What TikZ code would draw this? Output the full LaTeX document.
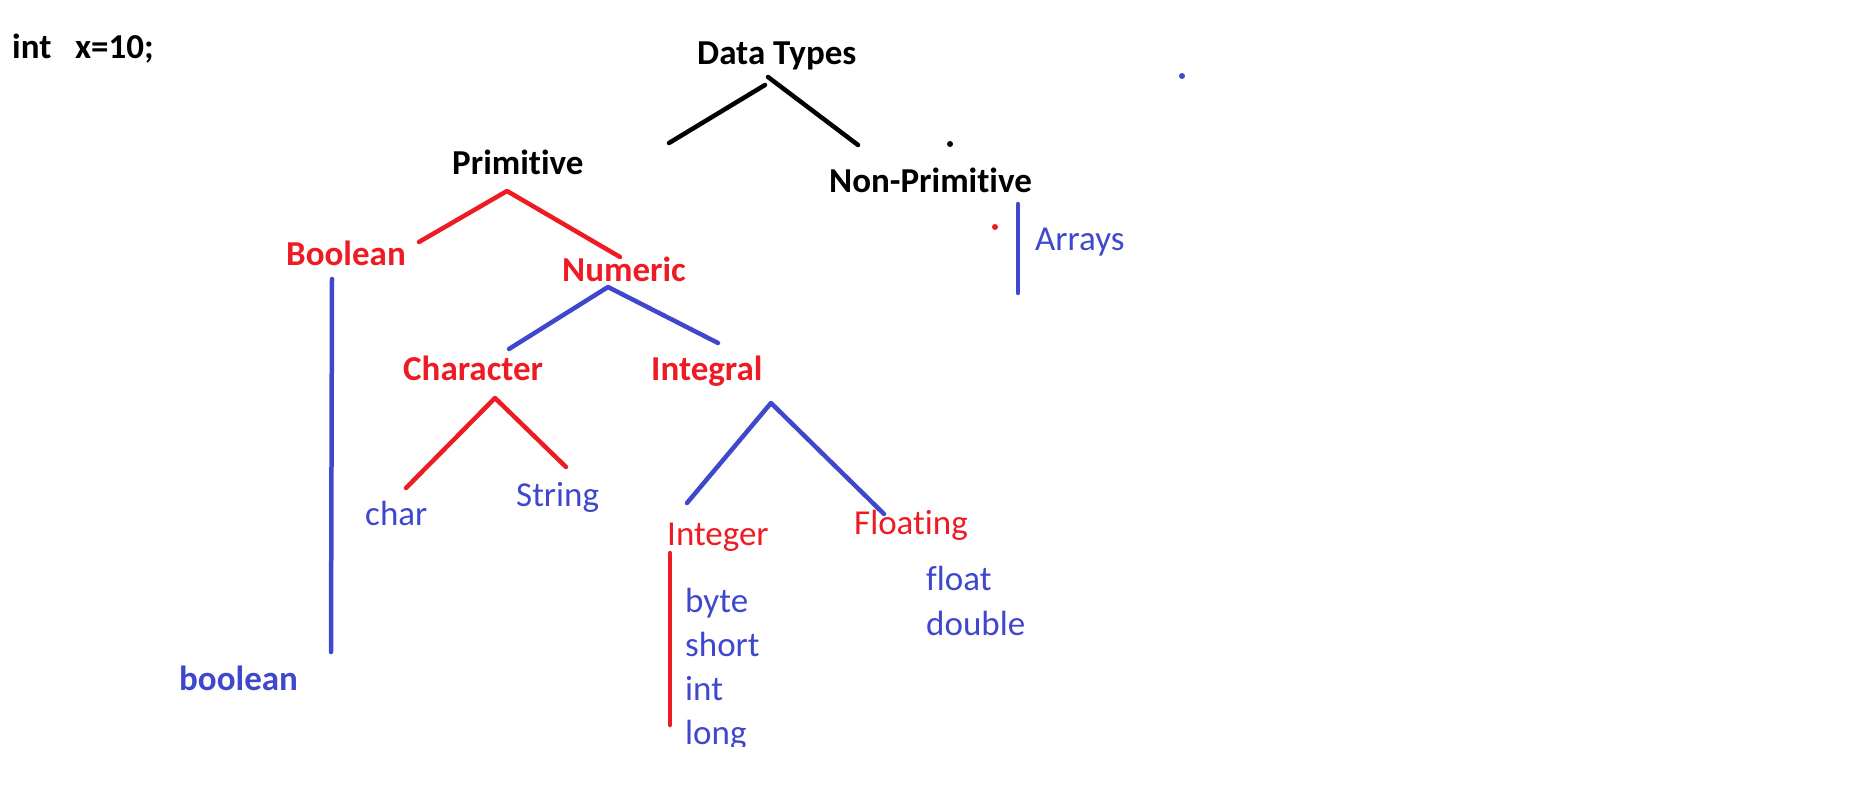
\documentclass[tikz,border=0pt]{standalone}
\usepackage{fontspec}
\setmainfont[RawFeature={-liga;-clig;-calt}]{Carlito}
\definecolor{paintred}{RGB}{237,28,36}
\definecolor{paintblue}{RGB}{63,72,204}
\begin{document}
\begin{tikzpicture}[x=1pt,y=-1pt,
  lbl/.style={anchor=base west,inner sep=0pt,font=\fontsize{35}{42}\selectfont},
  hd/.style={lbl,font=\fontsize{35}{42}\selectfont\bfseries},
  pen/.style={line width=4.5pt,line cap=round,line join=round}]
\useasboundingbox (0,0) rectangle (1855,810);
% headings
\node[hd] (code) at (12,59) {int\ \ \ x=10;};
\node[hd] (types) at (697,65) {Data Types};
\node[hd] (prim) at (452,175) {Primitive};
\node[hd] (nonprim) at (829,193) {Non-Primitive};
\node[hd,text=paintred] (bool) at (286,266) {Boolean};
\node[hd,text=paintred] (num) at (562,282) {Numeric};
\node[hd,text=paintred] (chr) at (403,380) {Character};
\node[hd,text=paintred] (integral) at (651,380) {Integral};
\node[hd,text=paintblue] (boolkw) at (179,690) {boolean};
% leaves
\node[lbl,text=paintblue] (charkw) at (365,525) {char};
\node[lbl,text=paintblue] (string) at (516,506) {String};
\node[lbl,text=paintred] (integer) at (667,545) {Integer};
\node[lbl,text=paintred] (floating) at (854,534) {Floating};
\node[lbl,text=paintblue] (floatkw) at (926,590) {float};
\node[lbl,text=paintblue] (doublekw) at (926,635) {double};
\node[lbl,text=paintblue] (arrays) at (1035,251) {Arrays};
\begin{scope}
\clip (600,560) rectangle (800,746);
\foreach \kw [count=\i] in {byte,short,int,long}
  \node[lbl,text=paintblue] (kw\i) at (685,568+44*\i) {\kw};
\end{scope}
% line ends
\coordinate (typesA) at (768,77);
\coordinate (typesB) at (765,85);
\coordinate (typesL) at (669,143);
\coordinate (typesR) at (858,145);
\coordinate (primL) at (419,242);
\coordinate (primT) at (507,191);
\coordinate (primR) at (620,257);
\coordinate (boolT) at (332,279);
\coordinate (boolB) at (331,652);
\coordinate (numL) at (509,349);
\coordinate (numT) at (608,287);
\coordinate (numR) at (718,343);
\coordinate (chrL) at (406,488);
\coordinate (chrT) at (495,398);
\coordinate (chrR) at (566,467);
\coordinate (intL) at (687,503);
\coordinate (intT) at (771,403);
\coordinate (intR) at (884,514);
\coordinate (integerT) at (670,553);
\coordinate (integerB) at (670,725);
\coordinate (arraysT) at (1018,204);
\coordinate (arraysB) at (1018,293);
% connectors
\draw[pen] (typesL) -- (typesB);
\draw[pen] (typesA) -- (typesR);
\draw[pen,paintred] (primL) -- (primT) -- (primR);
\draw[pen,paintblue] (boolT) -- (boolB);
\draw[pen,paintblue] (numL) -- (numT) -- (numR);
\draw[pen,paintred] (chrL) -- (chrT) -- (chrR);
\draw[pen,paintblue] (intL) -- (intT) -- (intR);
\draw[pen,paintred] (integerT) -- (integerB);
\draw[pen,paintblue] (arraysT) -- (arraysB);
% stray dots
\fill[paintblue] (1182,76) circle (3);
\fill (950,144) circle (3);
\fill[paintred] (995,227) circle (3);
\end{tikzpicture}
\end{document}
